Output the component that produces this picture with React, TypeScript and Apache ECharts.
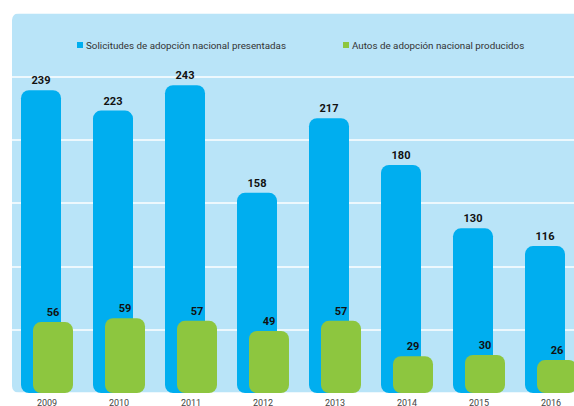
import React, { useEffect, useRef } from "react";
import * as echarts from "echarts";

const years = ["2009", "2010", "2011", "2012", "2013", "2014", "2015", "2016"];
const solicitudes = [239, 223, 243, 158, 217, 180, 130, 116];
const autos = [56, 59, 57, 49, 57, 29, 30, 26];
const seriesNames = [
  "Solicitudes de adopción nacional presentadas",
  "Autos de adopción nacional producidos",
];

export default function App() {
  const ref = useRef<HTMLDivElement>(null);
  useEffect(() => {
    if (!ref.current) return;
    const chart = echarts.init(ref.current, null, { renderer: "svg" });
    const font = "Roboto";
    chart.setOption({
      animation: false,
      graphic: [
        {
          type: "rect",
          left: 12,
          top: 13,
          z: -10,
          shape: { x: 0, y: 0, width: 600, height: 380, r: 7 },
          style: { fill: "#B9E4F8" },
        },
      ],
      legend: [
        {
          left: 77,
          top: 40,
          padding: 0,
          itemWidth: 6,
          itemHeight: 6,
          icon: "rect",
          data: [seriesNames[0]],
          textStyle: { fontFamily: font, fontSize: 9.8, color: "#333", padding: [0, 0, 0, -2] },
        },
        {
          left: 343,
          top: 40,
          padding: 0,
          itemWidth: 6,
          itemHeight: 6,
          icon: "rect",
          data: [seriesNames[1]],
          textStyle: { fontFamily: font, fontSize: 9.8, color: "#333", padding: [0, 0, 0, -2] },
        },
      ],
      grid: {
        left: 11,
        top: 13,
        width: 576,
        height: 380,
        containLabel: false,
        outerBoundsMode: "none",
      },
      xAxis: {
        type: "category",
        data: years,
        axisLine: { show: false },
        axisTick: { show: false },
        axisLabel: { fontFamily: font, fontSize: 9, color: "#444", margin: 5, hideOverlap: false },
      },
      yAxis: {
        type: "value",
        min: 0,
        max: 300,
        interval: 50,
        axisLabel: { show: false },
        axisLine: { show: false },
        axisTick: { show: false },
        splitLine: { show: true, lineStyle: { color: "#ffffff", width: 1.5 } },
      },
      series: [
        {
          name: seriesNames[0],
          type: "bar",
          data: solicitudes,
          barWidth: 40,
          barGap: "-70%",
          itemStyle: { color: "#00AEEF", borderRadius: 8 },
          label: {
            show: true,
            position: "top",
            distance: 4,
            fontFamily: font,
            fontSize: 11,
            fontWeight: "bold",
            color: "#111",
          },
        },
        {
          name: seriesNames[1],
          type: "bar",
          data: autos,
          barWidth: 40,
          itemStyle: { color: "#8DC63F", borderRadius: 8 },
          label: {
            show: true,
            position: "top",
            distance: 4,
            fontFamily: font,
            fontSize: 11,
            fontWeight: "bold",
            color: "#111",
          },
        },
      ],
    });
    return () => chart.dispose();
  }, []);
  return <div ref={ref} style={{ width: 574, height: 406, position: "absolute", left: 0, top: 0 }} />;
}
